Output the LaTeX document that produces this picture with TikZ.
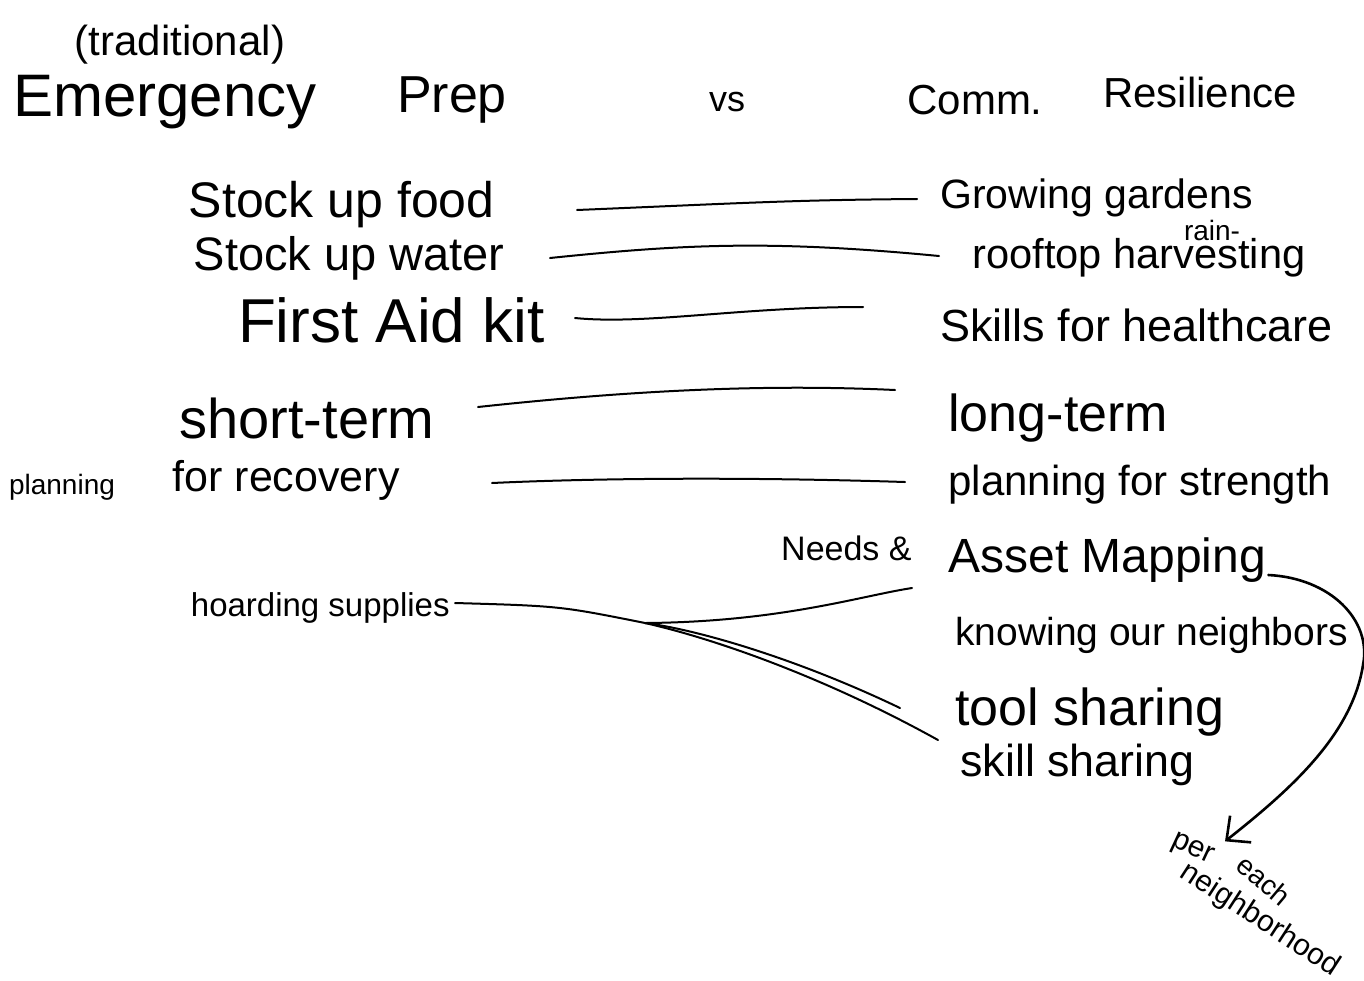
\documentclass[tikz,border=0pt]{standalone}
\usepackage{fontspec}
\setmainfont{Liberation Sans}
\usetikzlibrary{calc,arrows.meta}
\newcommand{\fs}[1]{\fontsize{#1}{#1}\selectfont}
\begin{document}
\begin{tikzpicture}[x=0.5pt,y=-0.5pt,
  txt/.style={inner sep=0pt, text=black},
  lt/.style={txt, anchor=east},
  rt/.style={txt, anchor=west},
  link/.style={draw=black, line width=1pt, line cap=round},
  pen/.style={draw=black, line width=1.3pt, line cap=round}]
\fill[white] (0,0) rectangle (1364,980);
\useasboundingbox (0,0) rectangle (1364,980);
% titles
\node[txt, font=\fs{21}] (trad) at (180,45) {(traditional)};
\node[txt, font=\fs{30}] (emerg) at (165,102) {Emergency};
\node[txt, font=\fs{26}] (prep) at (452,100) {Prep};
\node[txt, font=\fs{18}] (vs) at (727,102) {vs};
\node[txt, font=\fs{21}] (comm) at (975,100) {Comm.};
\node[txt, font=\fs{21}] (resil) at (1200,92) {Resilience};
% left column
\node[lt, font=\fs{25}] (food) at (495,205) {Stock up food};
\node[lt, font=\fs{23.5}] (water) at (505,258) {Stock up water};
\node[lt, font=\fs{31}] (aid) at (545,320) {First Aid kit};
\node[lt, font=\fs{28}] (short) at (435,418) {short-term};
\node[lt, font=\fs{21.5}] (recov) at (400,480) {for recovery};
\node[txt, font=\fs{14}] (plan) at (62,487) {planning};
\node[lt, font=\fs{16.5}] (hoard) at (450,608) {hoarding supplies};
% right column
\node[rt, font=\fs{20.5}] (garden) at (940,198) {Growing gardens};
\node[txt, font=\fs{14}] (rain) at (1212,230) {rain-};
\node[rt, font=\fs{20.8}] (roof) at (972,258) {rooftop harvesting};
\node[rt, font=\fs{22.5}] (skills) at (940,325) {Skills for healthcare};
\node[rt, font=\fs{26}] (long) at (948,418) {long-term};
\node[rt, font=\fs{21}] (strength) at (948,485) {planning for strength};
\node[lt, font=\fs{17}] (needs) at (912,548) {Needs \&};
\node[rt, font=\fs{24}] (asset) at (948,560) {Asset Mapping};
\node[rt, font=\fs{19.5}] (know) at (955,635) {knowing our neighbors};
\node[rt, font=\fs{26}] (tool) at (955,712) {tool sharing};
\node[rt, font=\fs{22.4}] (skill) at (960,765) {skill sharing};
% rotated note
\node[txt, font=\fs{15}, rotate=-25] (per) at (1192,850) {per};
\node[txt, font=\fs{14}, rotate=-40] (each) at (1264,880) {each};
\node[txt, font=\fs{15}, rotate=-33] (nbhd) at (1260,920) {neighborhood};
% connectors
\draw[link] ($(food.east)+(82,5)$) .. controls ($(food.east)+(250,-2)$) and ($(garden.west)+(-150,2)$) .. ($(garden.west)+(-23,1)$);
\draw[link] ($(water.east)+(45,0)$) .. controls ($(water.east)+(180,-14)$) and ($(roof.west)+(-200,-18)$) .. ($(roof.west)+(-33,-2)$);
\draw[link] ($(aid.east)+(30,-2)$) .. controls ($(aid.east)+(100,5)$) and ($(skills.west)+(-200,-18)$) .. ($(skills.west)+(-77,-18)$);
\draw[link] ($(short.east)+(43,-11)$) .. controls ($(short.east)+(200,-28)$) and ($(long.west)+(-180,-34)$) .. ($(long.west)+(-53,-28)$);
\draw[link] ($(recov.east)+(92,3)$) .. controls ($(recov.east)+(200,-2)$) and ($(strength.west)+(-200,-8)$) .. ($(strength.west)+(-43,-3)$);
\coordinate (J) at (645,623);
\draw[link] ($(hoard.east)+(5,-5)$) .. controls ($(hoard.east)+(110,-2)$) .. (J)
  .. controls (780,622) and (860,596) .. ($(asset.west)+(-36,28)$);
\draw[link] (J) .. controls (700,630) and (800,660) .. ($(tool.west)+(-55,-4)$);
\draw[link] (J) .. controls (720,640) and (830,680) .. ($(skill.west)+(-22,-25)$);
% curved arrow
\draw[pen, -{Straight Barb[length=9pt,width=17pt]}] ($(asset.east)+(2,15)$) .. controls (1330,578) and (1372,620) .. (1363,665)
  .. controls (1352,735) and (1290,790) .. ($(per.east)+(13,-18)$);
\end{tikzpicture}
\end{document}
